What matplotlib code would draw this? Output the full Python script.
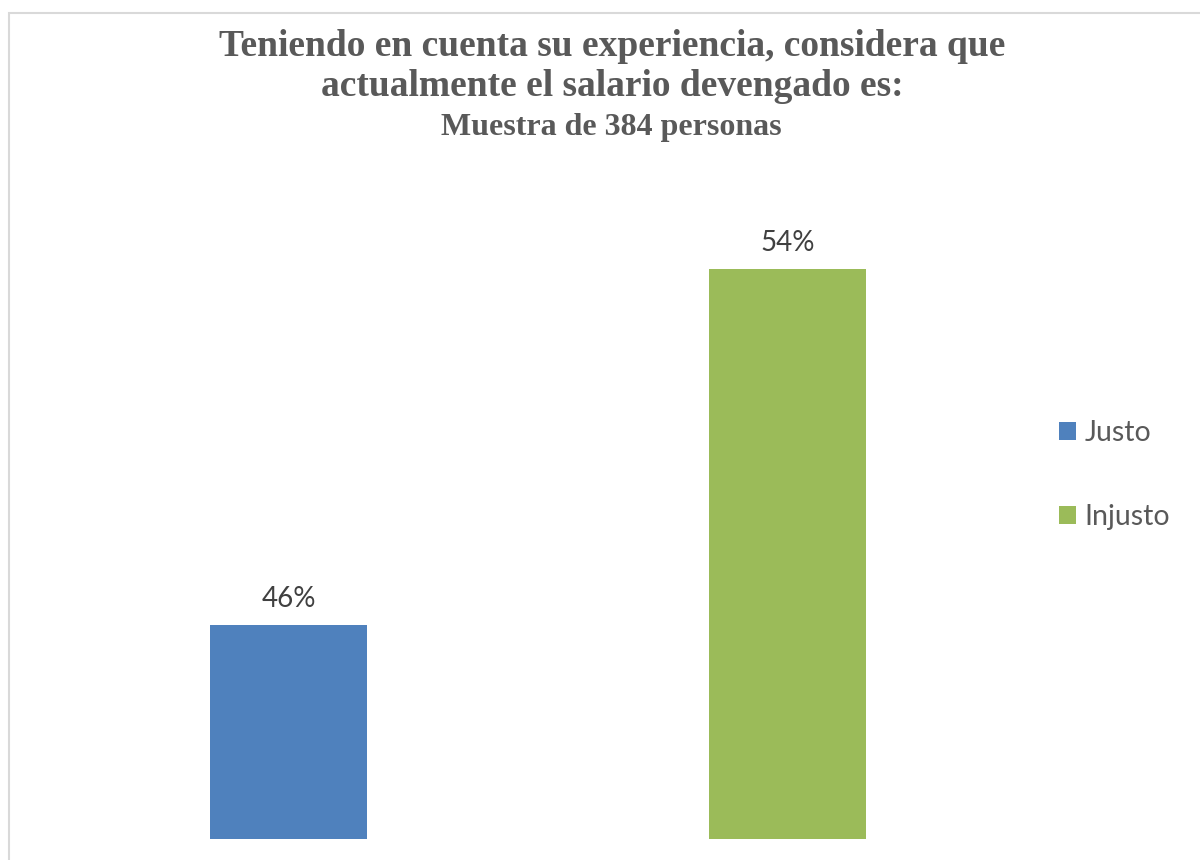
import matplotlib
matplotlib.use("Agg")
import matplotlib.pyplot as plt
from matplotlib.patches import Rectangle, Patch

# Survey results: perception of current salary
categories = ["Justo", "Injusto"]
percentages = [46, 54]
colors = ["#4F81BD", "#9BBB59"]
title_lines = ["Teniendo en cuenta su experiencia, considera que",
               "actualmente el salario devengado es:"]
title_sub = "Muestra de 384 personas"

W, H = 1200, 860
fig = plt.figure(figsize=(W / 100, H / 100), dpi=100)
fig.patch.set_facecolor("white")

# Chart frame
fig.patches.append(Rectangle((9 / W, -0.05), 1.2, (H - 13) / H + 0.05,
                             transform=fig.transFigure, fill=False,
                             edgecolor="#D9D9D9", linewidth=1.5))

ymin, ymax = 41.2, 57.0
px_per_unit = 44.5
ax_h = (ymax - ymin) * px_per_unit
ax = fig.add_axes([39 / W, 21 / H, (1037 - 39) / W, ax_h / H])
x = list(range(len(categories)))
bars = ax.bar(x, percentages, width=0.315, color=colors, zorder=2)
ax.set_xlim(-0.5, len(categories) - 0.5)
ax.set_ylim(ymin, ymax)
ax.axis("off")

for xi, v in zip(x, percentages):
    ax.annotate(f"{v}%", (xi, v), xytext=(0, 10), textcoords="offset points",
                ha="center", va="bottom", fontsize=20, color="#404040",
                family="Lato")

# Titles
for i, line in enumerate(title_lines):
    fig.text(612 / W, 1 - (47 + 40 * i) / H, line, ha="center", va="center",
             fontsize=27, fontweight="bold", color="#595959",
             family="Liberation Serif")
fig.text(611 / W, 1 - 127 / H, title_sub, ha="center", va="center",
         fontsize=23, fontweight="bold", color="#595959",
         family="Liberation Serif")

handles = [Patch(facecolor=c, edgecolor="none") for c in colors]
fig.legend(handles, categories, loc="center left",
           bbox_to_anchor=(1033 / W, 1 - 475 / H), frameon=False,
           prop={"family": "Lato", "size": 20.5}, labelcolor="#595959",
           handlelength=0.6, handleheight=0.6, handletextpad=0.3,
           labelspacing=2.03)

fig.savefig("out.png", dpi=100, facecolor="white")
